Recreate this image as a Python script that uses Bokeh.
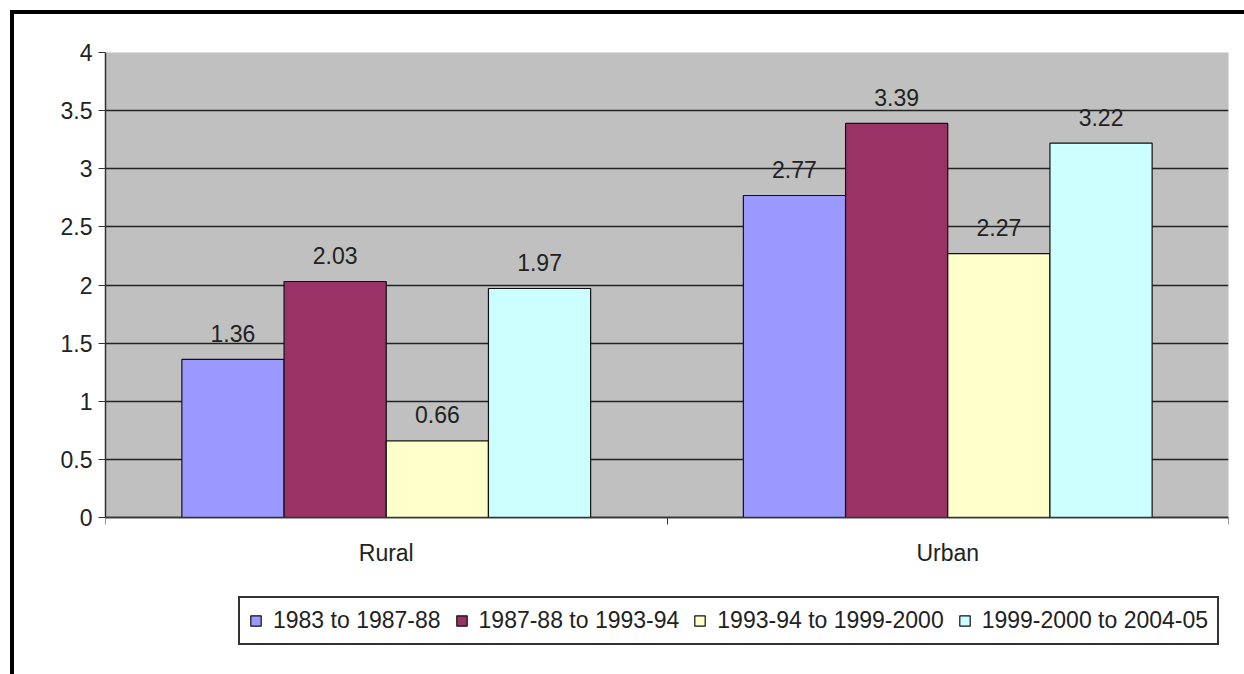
from bokeh.plotting import figure
from bokeh.models import (Range1d, FixedTicker, Legend, LegendItem, ColumnDataSource,
                          InlineStyleSheet, BoxAnnotation)
from bokeh.core.properties import value
from bokeh.embed import file_html
from bokeh.resources import INLINE

categories = ["Rural", "Urban"]
series_names = ["1983 to 1987-88", "1987-88 to 1993-94", "1993-94 to 1999-2000", "1999-2000 to 2004-05"]
s1983 = [1.36, 2.77]
s1987 = [2.03, 3.39]
s1993 = [0.66, 2.27]
s1999 = [1.97, 3.22]
series_values = [s1983, s1987, s1993, s1999]
colors = ["#9999FF", "#993366", "#FFFFCC", "#CCFFFF"]
y_ticks = [0, 0.5, 1, 1.5, 2, 2.5, 3, 3.5, 4]
y_tick_labels = ["0", "0.5", "1", "1.5", "2", "2.5", "3", "3.5", "4"]

FONT = "Liberation Sans"
FS = "23px"

W, H = 1244, 674
TOP, BOTTOM_VAL_PX = 52, 517          # pixel rows of the value axis ends
ymin, ymax = y_ticks[0], y_ticks[-1]
ppu = (BOTTOM_VAL_PX - TOP) / (ymax - ymin)
y_start = ymin - (H - BOTTOM_VAL_PX) / ppu   # extend frame down so legend sits inside it

p = figure(width=W, height=H, output_backend="svg", toolbar_location=None,
           x_range=Range1d(0, len(categories)), y_range=Range1d(y_start, ymax),
           min_border_left=105, min_border_right=16, min_border_top=TOP, min_border_bottom=0)
p.background_fill_color = "white"
p.border_fill_color = "white"
p.outline_line_color = None

plot_area = BoxAnnotation(bottom=ymin, top=ymax, fill_color="#C0C0C0", fill_alpha=1.0,
                          line_color="#808080", line_width=1, level="image")
p.add_layout(plot_area)

bar_w = 0.182
offsets = [-0.273, -0.091, 0.091, 0.273]
items = []
for name, vals, col, off in zip(series_names, series_values, colors, offsets):
    xs = [i + 0.5 + off for i in range(len(categories))]
    src = ColumnDataSource(dict(x=xs, top=vals, label=[f"{v:.2f}" for v in vals]))
    r = p.vbar(x="x", top="top", bottom=0, width=bar_w, source=src,
               fill_color=col, line_color="#111111", line_width=1.2)
    p.text(x="x", y="top", text="label", source=src, text_align="center",
           text_baseline="middle", y_offset=-26, text_font=value(FONT),
           text_font_size=FS, text_color="#222222")
    items.append(LegendItem(label=name, renderers=[r]))

# y axis
p.yaxis.ticker = FixedTicker(ticks=y_ticks)
p.yaxis.bounds = (ymin, ymax)
p.yaxis.major_label_overrides = {t: l for t, l in zip(y_ticks, y_tick_labels)}
p.yaxis.major_label_text_font = FONT
p.yaxis.major_label_text_font_size = FS
p.yaxis.major_label_text_color = "#222222"
p.yaxis.major_tick_in = 0
p.yaxis.major_tick_out = 7
p.yaxis.minor_tick_line_color = None
p.yaxis.axis_line_color = "#333333"
p.yaxis.axis_line_width = 1.5
p.yaxis.major_tick_line_color = "#333333"
p.yaxis.major_label_standoff = 6

# x axis at value 0
cat_ticks = [i + 0.5 for i in range(len(categories))]
p.xaxis.fixed_location = 0
p.xaxis.ticker = FixedTicker(ticks=cat_ticks, minor_ticks=list(range(len(categories) + 1)))
p.xaxis.major_label_overrides = {t: c for t, c in zip(cat_ticks, categories)}
p.xaxis.major_label_text_font = FONT
p.xaxis.major_label_text_font_size = FS
p.xaxis.major_label_text_color = "#222222"
p.xaxis.major_tick_line_color = None
p.xaxis.major_label_standoff = 15
p.xaxis.minor_tick_in = 0
p.xaxis.minor_tick_out = 7
p.xaxis.minor_tick_line_color = "#333333"
p.xaxis.axis_line_color = "#333333"
p.xaxis.axis_line_width = 1.5

p.xgrid.grid_line_color = None
p.ygrid.ticker = FixedTicker(ticks=y_ticks)
p.ygrid.grid_line_color = "#222222"
p.ygrid.grid_line_width = 1.5

legend = Legend(items=items, orientation="horizontal", location=(133, 29),
                label_text_font=FONT, label_text_font_size=FS, label_text_color="#222222",
                glyph_width=13, glyph_height=13, label_standoff=11, spacing=14,
                padding=9, margin=0, border_line_color="#333333", border_line_width=2,
                border_line_alpha=1.0,
                background_fill_color="white", background_fill_alpha=1.0)
p.add_layout(legend, "center")

p.stylesheets = [InlineStyleSheet(css=""":host::after {
  content: ""; position: absolute; left: 10px; top: 10px; right: -10px; bottom: -10px;
  border-left: 4px solid black; border-top: 4px solid black; pointer-events: none;
}
:host { position: relative; }""")]

open("out.html", "w").write(file_html(p, INLINE))
